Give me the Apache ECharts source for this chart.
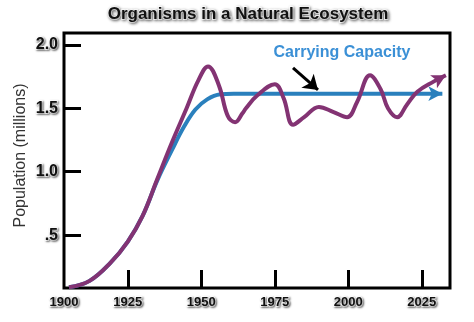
<!DOCTYPE html>
<html>
<head>
<meta charset="utf-8">
<script src="https://cdn.jsdelivr.net/npm/echarts@6/dist/echarts.min.js"></script>
<style>html,body{margin:0;padding:0;background:#fff}#c{width:474px;height:322px}</style>
</head>
<body>
<div id="c"></div>
<script>
// ---- data ----
const populationYears = [1905, 1912, 1919, 1925, 1930, 1935, 1940, 1945, 1949, 1952.3, 1956, 1959, 1961.5, 1964, 1965.2, 1969, 1975, 1978, 1981.2, 1985, 1990, 1995, 1999.6, 2003, 2007.4, 2011, 2013.5, 2016.6, 2020, 2023.5, 2029, 2033.2];
const populationValues = [0.09, 0.14, 0.28, 0.45, 0.65, 0.94, 1.23, 1.50, 1.72, 1.83, 1.68, 1.44, 1.39, 1.46, 1.50, 1.60, 1.69, 1.58, 1.37, 1.43, 1.51, 1.47, 1.43, 1.55, 1.76, 1.65, 1.50, 1.43, 1.53, 1.63, 1.71, 1.76];
const capacityYears = [1905, 1912, 1919, 1925, 1930, 1935, 1940, 1944, 1948, 1952, 1956.5, 1961, 2032];
const capacityValues = [0.09, 0.14, 0.28, 0.45, 0.65, 0.93, 1.17, 1.35, 1.49, 1.57, 1.61, 1.615, 1.615];
const xTickValues = [1925, 1950, 1975, 2000, 2025];
const xTickLabels = ['1900', '1925', '1950', '1975', '2000', '2025'];
const yTickValues = [0.5, 1.0, 1.5, 2.0];
const yTickLabels = ['.5', '1.0', '1.5', '2.0'];
const arrowFrom = [1981.2, 1.818];
const arrowTo = [1989.7, 1.644];

const xMin = 1903.3, xMax = 2034.6, yMin = 0.084, yMax = 2.093;

function pairs(xs, ys, lastSymbol) {
  return xs.map((x, i) => {
    const item = { value: [x, ys[i]] };
    if (i === xs.length - 1 && lastSymbol) Object.assign(item, lastSymbol);
    return item;
  });
}

const shadowText = {
  textBorderColor: '#fff', textBorderWidth: 2,
  textShadowColor: 'rgba(0,0,0,0.45)', textShadowBlur: 3,
  textShadowOffsetX: 1, textShadowOffsetY: 1
};

const chart = echarts.init(document.getElementById('c'), null, { renderer: 'canvas' });
chart.setOption({
  backgroundColor: '#fff',
  animation: false,
  title: {
    text: 'Organisms in a Natural Ecosystem',
    left: 243, top: 1, textAlign: 'center',
    textStyle: Object.assign({ fontFamily: 'Liberation Sans', fontSize: 17, fontWeight: 'bold', color: '#111' }, shadowText)
  },
  grid: { left: 64, right: 24, top: 33, bottom: 34, show: true, borderColor: '#000', borderWidth: 3, backgroundColor: '#fff' },
  xAxis: {
    type: 'value', min: xMin, max: xMax,
    splitLine: { show: false },
    axisLine: { show: false },
    axisTick: { show: true, inside: true, length: 18, lineStyle: { color: '#000', width: 3 }, customValues: xTickValues },
    axisLabel: {
      show: true, margin: 8, customValues: [xMin].concat(xTickValues),
      formatter: v => (Math.abs(v - xMin) < 0.01 ? xTickLabels[0] : xTickLabels[xTickValues.indexOf(v) + 1]),
      fontFamily: 'Liberation Sans', fontSize: 13, fontWeight: 'bold', color: '#111',
      textBorderColor: '#fff', textBorderWidth: 2, textShadowColor: 'rgba(0,0,0,0.45)', textShadowBlur: 2, textShadowOffsetX: 1, textShadowOffsetY: 1
    }
  },
  yAxis: {
    type: 'value', min: yMin, max: yMax,
    name: 'Population (millions)', nameLocation: 'middle', nameGap: 35, nameMoveOverlap: false,
    nameTextStyle: { fontFamily: 'Liberation Sans', fontSize: 16, color: '#333', padding: [0, 0, 0, 10] },
    splitLine: { show: false },
    axisLine: { show: false },
    axisTick: { show: true, inside: true, length: 17, lineStyle: { color: '#000', width: 3 }, customValues: yTickValues },
    axisLabel: {
      show: true, margin: 6, customValues: yTickValues,
      formatter: v => yTickLabels[yTickValues.indexOf(v)],
      fontFamily: 'Liberation Sans', fontSize: 16, fontWeight: 'bold', color: '#111',
      textBorderColor: '#fff', textBorderWidth: 2, textShadowColor: 'rgba(0,0,0,0.45)', textShadowBlur: 2, textShadowOffsetX: 1, textShadowOffsetY: 1
    }
  },
  graphic: [{
    type: 'text', x: 342, y: 53,
    style: {
      text: 'Carrying Capacity', align: 'center', verticalAlign: 'middle',
      font: 'bold 16px "Liberation Sans"', fill: '#3b90d6',
      stroke: '#fff', lineWidth: 3,
      shadowColor: 'rgba(0,0,0,0.4)', shadowBlur: 3, shadowOffsetX: 1, shadowOffsetY: 1
    }
  }],
  series: [
    {
      type: 'line', name: 'Carrying capacity', smooth: 0.4,
      symbol: 'none', showSymbol: true, z: 2,
      lineStyle: { color: '#2a80bd', width: 4 }, itemStyle: { color: '#2a80bd' },
      data: pairs(capacityYears, capacityValues, { symbol: 'arrow', symbolSize: [11, 14], symbolRotate: -90 }),
      markLine: {
        silent: true, symbol: ['none', 'arrow'], symbolSize: 14,
        label: { show: false },
        lineStyle: { color: '#000', width: 3, type: 'solid' },
        data: [[{ coord: arrowFrom }, { coord: arrowTo }]]
      }
    },
    {
      type: 'line', name: 'Population', smooth: 0.4,
      symbol: 'none', showSymbol: true, z: 3,
      lineStyle: { color: '#833373', width: 4 }, itemStyle: { color: '#833373' },
      data: pairs(populationYears, populationValues, { symbol: 'arrow', symbolSize: [11, 14], symbolRotate: -62 })
    }
  ]
});
</script>
</body>
</html>
